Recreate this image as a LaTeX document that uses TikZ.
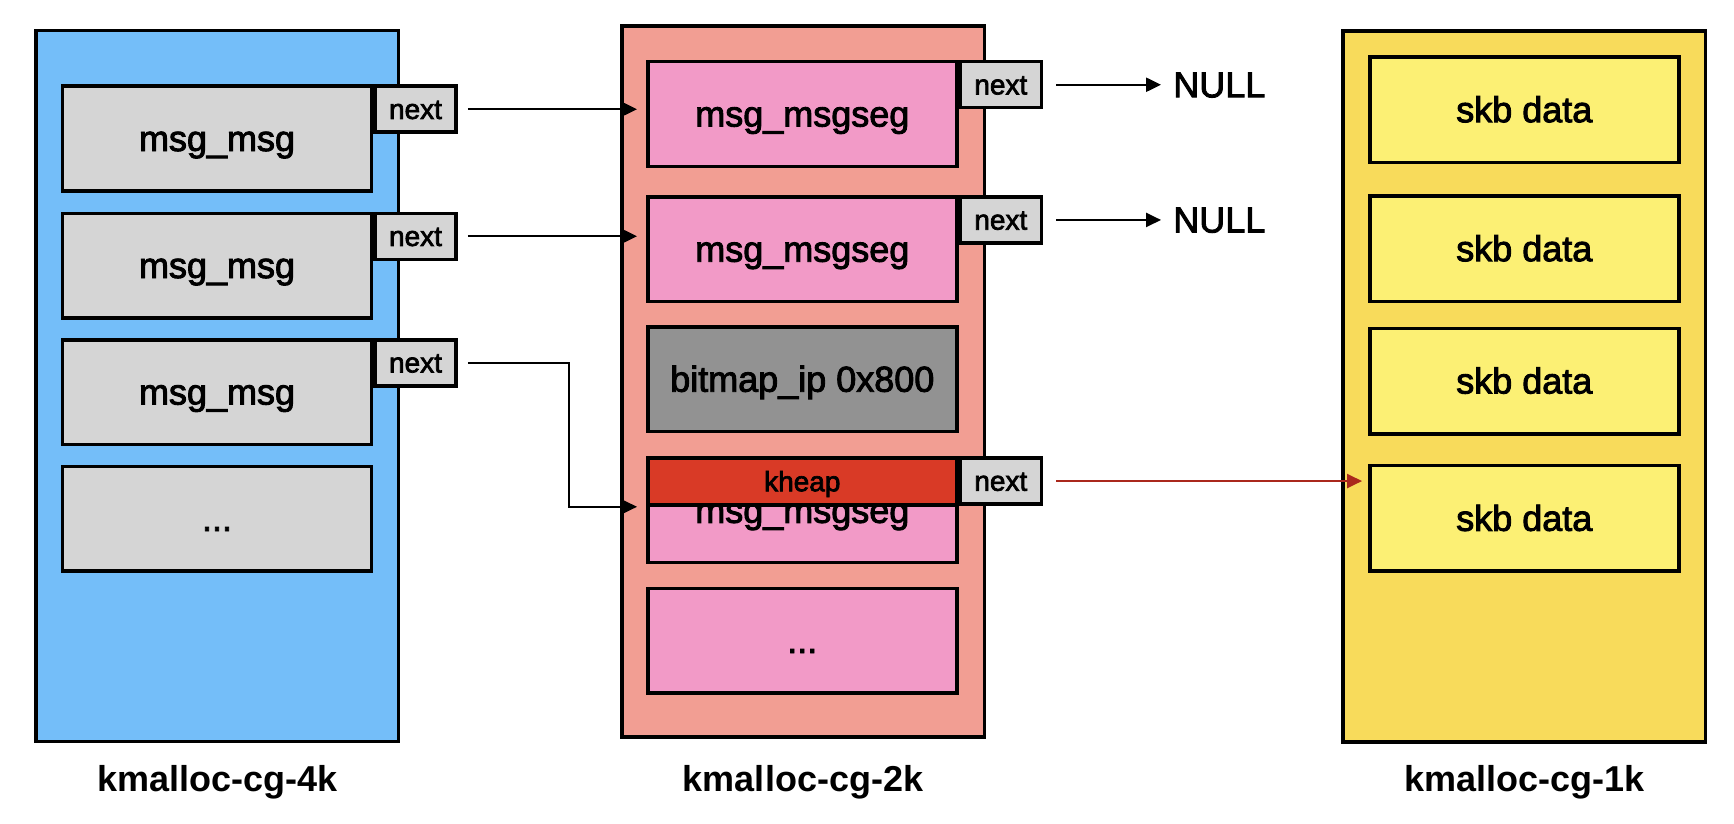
\documentclass[tikz,border=0pt]{standalone}
\usepackage{fontspec}
\setmainfont{Liberation Sans}[FakeBold=2.5]
\newfontfamily\lblfont{Liberation Sans Bold}
\usetikzlibrary{arrows.meta,positioning}

\definecolor{cache4k}{RGB}{116,190,249}
\definecolor{cache2k}{RGB}{242,158,147}
\definecolor{cache1k}{RGB}{248,219,91}
\definecolor{boxgray}{RGB}{213,213,213}
\definecolor{segpink}{RGB}{242,154,199}
\definecolor{bitgray}{RGB}{146,146,146}
\definecolor{kheapred}{RGB}{217,58,38}
\definecolor{skbyellow}{RGB}{252,240,116}
\definecolor{ptrred}{RGB}{170,40,28}

\begin{document}
\begin{tikzpicture}[x=1pt,y=-1pt,inner sep=0pt,
        bigtext/.style={font=\fontsize{36}{40}\selectfont,text height=32.5pt,text depth=7.5pt},
        smalltext/.style={font=\fontsize{28}{30}\selectfont,text height=25.3pt,text depth=5.9pt},
        cache/.style={draw,line width=3.5pt,minimum width=362.5pt,minimum height=711pt},
        obj/.style={draw,line width=3.5pt,minimum width=309pt,minimum height=104.5pt,bigtext},
        ptrbox/.style={draw,line width=3.5pt,fill=boxgray,minimum width=81pt,minimum height=46pt,
            anchor=north west,smalltext},
        cachelabel/.style={bigtext,font=\fontsize{36}{40}\selectfont\lblfont},
        ptr/.style={-{Triangle[length=15pt,width=14pt]},line width=2.3pt}]

  \useasboundingbox (0,0) rectangle (1734,824);

  % kmalloc-cg-4k
  \node[cache,fill=cache4k] (cg_4k) at (217.2,386.2) {};
  \node[obj,fill=boxgray] (msg_1) at (217,138.5) {msg\_msg};
  \node[obj,fill=boxgray] (msg_2) at (217,265.5) {msg\_msg};
  \node[obj,fill=boxgray] (msg_3) at (217,392) {msg\_msg};
  \node[obj,fill=boxgray] (msg_4) at (217,518.5) {...};
  \node[ptrbox] (next_m1) at (msg_1.north east) {next};
  \node[ptrbox] (next_m2) at (msg_2.north east) {next};
  \node[ptrbox] (next_m3) at (msg_3.north east) {next};
  \node[cachelabel] (lbl_4k) at (217.2,779) {kmalloc-cg-4k};

  % kmalloc-cg-2k
  \node[cache,fill=cache2k] (cg_2k) at (803,381.6) {};
  \node[obj,fill=segpink] (seg_1) at (802.3,114) {msg\_msgseg};
  \node[obj,fill=segpink] (seg_2) at (802.3,249.2) {msg\_msgseg};
  \node[obj,fill=bitgray] (bitmap) at (802.3,379.2) {bitmap\_ip 0x800};
  \node[obj,fill=segpink] (seg_3) at (802.3,510.3) {msg\_msgseg};
  \node[obj,fill=segpink] (seg_4) at (802.3,640.5) {...};
  \node[draw,line width=3.5pt,fill=kheapred,minimum width=309pt,minimum height=47pt,
        anchor=north,smalltext] (kheap) at (seg_3.north) {kheap};
  \node[ptrbox] (next_s1) at (seg_1.north east) {next};
  \node[ptrbox] (next_s2) at (seg_2.north east) {next};
  \node[ptrbox] (next_s3) at (seg_3.north east) {next};
  \node[cachelabel] (lbl_2k) at (803,779) {kmalloc-cg-2k};

  \node[bigtext,anchor=west] (null_1) [right=130pt of next_s1] {NULL};
  \node[bigtext,anchor=west] (null_2) [right=130pt of next_s2] {NULL};

  % kmalloc-cg-1k
  \node[cache,fill=cache1k] (cg_1k) at (1524.1,386.6) {};
  \node[obj,fill=skbyellow,minimum height=105.5pt] (skb_1) at (1524.3,109.7) {skb data};
  \node[obj,fill=skbyellow,minimum height=105.5pt] (skb_2) at (1524.3,248.7) {skb data};
  \node[obj,fill=skbyellow,minimum height=105.5pt] (skb_3) at (1524.3,381) {skb data};
  \node[obj,fill=skbyellow,minimum height=105.5pt] (skb_4) at (1524.3,518.3) {skb data};
  \node[cachelabel] (lbl_1k) at (1524.1,779) {kmalloc-cg-1k};

  \path[ptr] (next_m1) edge[shorten <=10pt,shorten >=9pt] (next_m1.east -| seg_1.west)
             (next_m2) edge[shorten <=10pt,shorten >=9pt] (next_m2.east -| seg_2.west)
             (next_s1) edge[shorten <=13pt,shorten >=12pt] (null_1)
             (next_s2) edge[shorten <=13pt,shorten >=12pt] (null_2);
  \draw[ptr,shorten <=10pt,shorten >=9pt] (next_m3.east) -| ([xshift=-77pt]kheap.south west)
        -- (kheap.south west);
  \path[ptr,color=ptrred] (next_s3) edge[shorten <=13pt,shorten >=6pt] (next_s3.east -| skb_4.west);

\end{tikzpicture}
\end{document}
